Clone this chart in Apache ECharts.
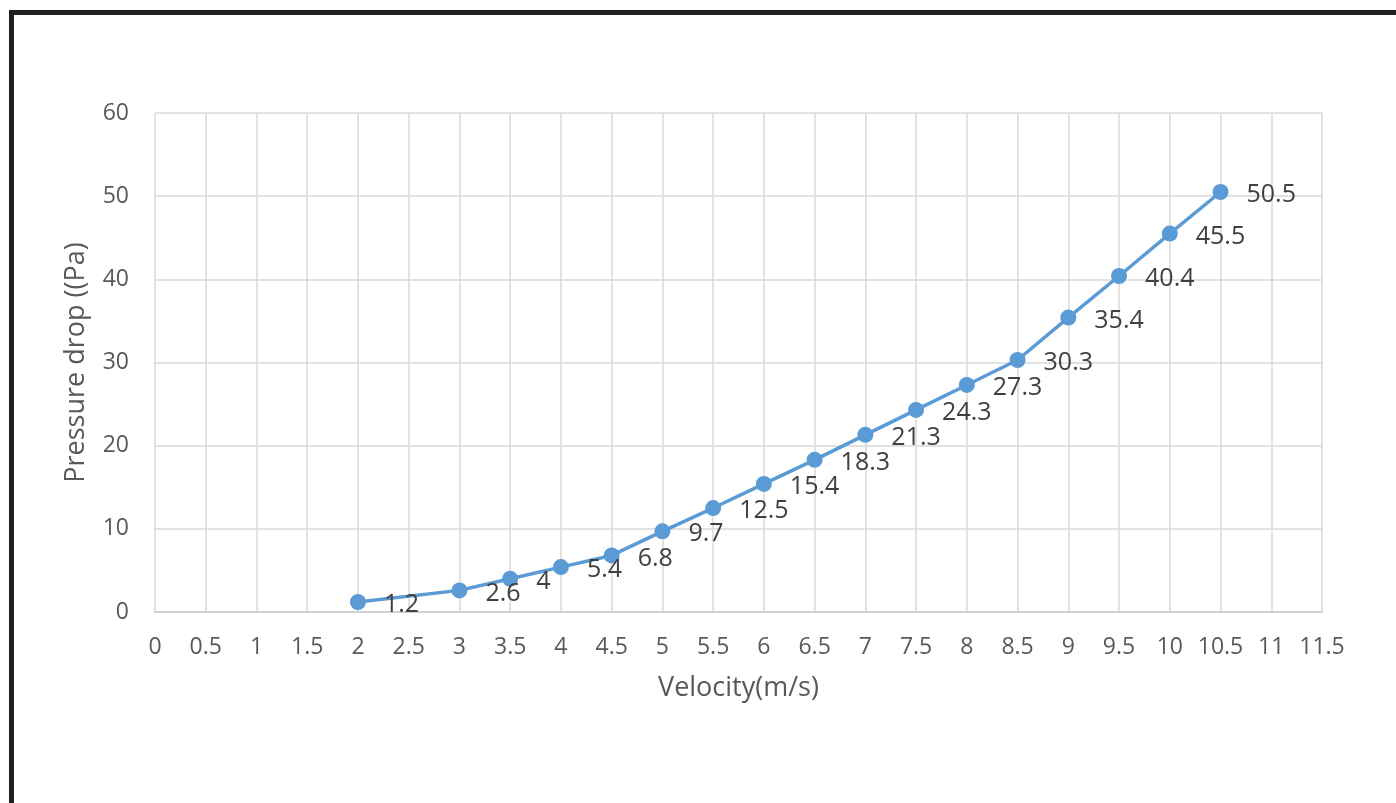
<!DOCTYPE html>
<html>
<head>
<meta charset="utf-8">
<script src="https://cdn.jsdelivr.net/npm/echarts@6/dist/echarts.min.js"></script>
<style>
html,body{margin:0;padding:0;background:#fff;}
#frame{position:absolute;left:9px;top:10px;width:1387px;height:793px;border-top:5px solid #231f20;border-left:5px solid #231f20;box-sizing:border-box;}
#chart{position:absolute;left:0;top:0;width:1396px;height:803px;}
</style>
</head>
<body>
<div id="frame"></div>
<div id="chart"></div>
<script>
var velocity = [2, 3, 3.5, 4, 4.5, 5, 5.5, 6, 6.5, 7, 7.5, 8, 8.5, 9, 9.5, 10, 10.5];
var pressureDrop = [1.2, 2.6, 4, 5.4, 6.8, 9.7, 12.5, 15.4, 18.3, 21.3, 24.3, 27.3, 30.3, 35.4, 40.4, 45.5, 50.5];
var xTitle = 'Velocity(m/s)';
var yTitle = 'Pressure drop ((Pa)';

var points = velocity.map(function (v, i) { return [v, pressureDrop[i]]; });
var chart = echarts.init(document.getElementById('chart'));
var font = '"Open Sans", "Noto Sans", sans-serif';
chart.setOption({
  animation: false,
  grid: { left: 155, right: 74, top: 113, bottom: 191 },
  xAxis: {
    type: 'value', min: 0, max: 11.5, interval: 0.5,
    name: xTitle, nameLocation: 'middle', nameGap: 63,
    nameTextStyle: { color: '#595959', fontSize: 27, fontFamily: font },
    axisLine: { show: true, lineStyle: { color: '#d0d0d0', width: 2 } },
    axisTick: { show: false },
    axisLabel: { color: '#595959', fontSize: 23, fontFamily: font, margin: 24,
      formatter: function (v) { return String(v); } },
    splitLine: { show: true, lineStyle: { color: '#d9d9d9', width: 1.5 } }
  },
  yAxis: {
    type: 'value', min: 0, max: 60, interval: 10,
    name: yTitle, nameLocation: 'middle', nameGap: 65,
    nameTextStyle: { color: '#595959', fontSize: 27, fontFamily: font },
    axisLine: { show: false },
    axisTick: { show: false },
    axisLabel: { color: '#595959', fontSize: 23, fontFamily: font, margin: 26 },
    splitLine: { show: true, lineStyle: { color: '#d9d9d9', width: 1.5 } }
  },
  series: [{
    type: 'line',
    data: points,
    symbol: 'circle', symbolSize: 16,
    lineStyle: { color: '#5b9bd5', width: 3.5 },
    itemStyle: { color: '#5b9bd5' },
    label: { show: true, position: 'right', distance: 18, offset: [0, 3],
      color: '#404040', fontSize: 25, fontFamily: font }
  }]
});
</script>
</body>
</html>
